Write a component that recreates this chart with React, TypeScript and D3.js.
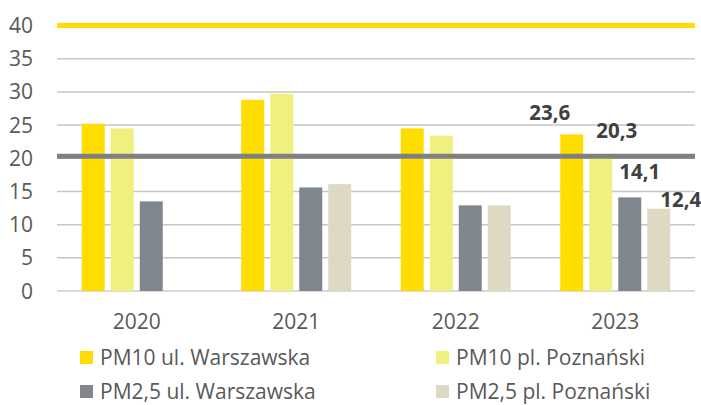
import React from "react";
import * as d3 from "d3";

const years = ["2020", "2021", "2022", "2023"];
const seriesNames = [
  "PM10 ul. Warszawska",
  "PM10 pl. Poznański",
  "PM2,5 ul. Warszawska",
  "PM2,5 pl. Poznański",
];
const pm10Warszawska = [25.2, 28.8, 24.5, 23.6];
const pm10Poznanski = [24.5, 29.7, 23.4, 20.3];
const pm25Warszawska = [13.5, 15.6, 12.9, 14.1];
const pm25Poznanski: (number | null)[] = [null, 16.1, 12.9, 12.4];
const seriesValues = [pm10Warszawska, pm10Poznanski, pm25Warszawska, pm25Poznanski];
const seriesColors = ["#FFDD00", "#F0F07E", "#7F868E", "#DDD9C3"];
const yTicks = [0, 5, 10, 15, 20, 25, 30, 35, 40];
const limitPM10 = 40;
const limitPM25 = 20.3;
// value labels shown for last year only
const labelYear = "2023";
const labelOffsets = [
  [-22, -14],
  [16, -18],
  [10, -18],
  [22, -2],
];

export default function App() {
  const W = 701;
  const H = 405;
  const y = d3.scaleLinear().domain([0, 40]).range([291, 25.5]);
  const x = d3.scaleBand().domain(years).range([57, 695]).padding(0);
  const xs = d3
    .scaleBand<number>()
    .domain([0, 1, 2, 3])
    .range([-55, 55])
    .paddingInner(0.207)
    .paddingOuter(0);
  const font = "'Open Sans', 'DejaVu Sans', sans-serif";
  const legendPos = [
    [80, 351],
    [436, 351],
    [80, 385],
    [436, 385],
  ];
  return (
    <svg
      width={W}
      height={H}
      style={{ position: "absolute", left: 0, top: 0, background: "#fff" }}
    >
      {/* gridlines */}
      {yTicks.map((t) => (
        <line
          key={"g" + t}
          x1={57}
          x2={695}
          y1={y(t)}
          y2={y(t)}
          stroke={t === 0 ? "#D9D9D9" : "#C6C6C6"}
          strokeWidth={t === 0 ? 2 : 1.5}
        />
      ))}
      {/* y tick labels */}
      {yTicks.map((t) => (
        <text
          key={"t" + t}
          x={33}
          y={y(t)}
          dy="0.36em"
          textAnchor="end"
          fontFamily={font}
          fontSize={21}
          fill="#595959"
        >
          {t}
        </text>
      ))}
      {/* bars */}
      {years.map((yr, i) => {
        const cx = (x(yr) ?? 0) + x.bandwidth() / 2;
        return seriesValues.map((vals, s) => {
          const v = vals[i];
          if (v == null) return null;
          return (
            <rect
              key={yr + s}
              x={cx + (xs(s) ?? 0)}
              y={y(v)}
              width={xs.bandwidth()}
              height={y(0) - y(v)}
              fill={seriesColors[s]}
            />
          );
        });
      })}
      {/* limit lines */}
      <line
        x1={57}
        x2={695}
        y1={y(limitPM10)}
        y2={y(limitPM10)}
        stroke="#FFDD00"
        strokeWidth={5}
      />
      <line
        x1={57}
        x2={695}
        y1={y(limitPM25)}
        y2={y(limitPM25)}
        stroke="#808080"
        strokeWidth={5}
      />
      {/* value labels */}
      {seriesValues.map((vals, s) => {
        const i = years.indexOf(labelYear);
        const v = vals[i];
        if (v == null) return null;
        const cx =
          (x(labelYear) ?? 0) + x.bandwidth() / 2 + (xs(s) ?? 0) + xs.bandwidth() / 2;
        return (
          <text
            key={"v" + s}
            x={cx + labelOffsets[s][0]}
            y={y(v) + labelOffsets[s][1]}
            textAnchor="middle"
            fontFamily={font}
            fontWeight="bold"
            fontSize={20.5}
            fill="#404040"
          >
            {v.toFixed(1).replace(".", ",")}
          </text>
        );
      })}
      {/* x labels */}
      {years.map((yr) => (
        <text
          key={"x" + yr}
          x={(x(yr) ?? 0) + x.bandwidth() / 2}
          y={329}
          textAnchor="middle"
          fontFamily={font}
          fontSize={21}
          fill="#595959"
        >
          {yr}
        </text>
      ))}
      {/* legend */}
      {seriesNames.map((name, s) => (
        <g key={"l" + s}>
          <rect
            x={legendPos[s][0]}
            y={legendPos[s][1]}
            width={13}
            height={13}
            fill={seriesColors[s]}
          />
          <text
            x={legendPos[s][0] + 20}
            y={legendPos[s][1] + 14}
            fontFamily={font}
            fontSize={21}
            fill="#595959"
          >
            {name}
          </text>
        </g>
      ))}
    </svg>
  );
}
